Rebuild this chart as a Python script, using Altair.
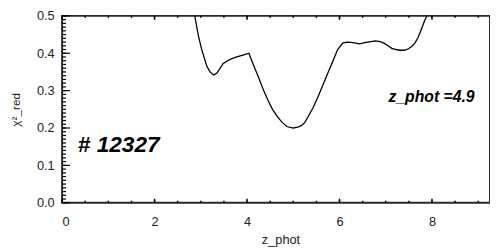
import altair as alt
import pandas as pd

# chi^2_red curve versus photometric redshift
z_phot = [2.70, 2.80, 2.87, 2.95, 3.02, 3.13, 3.20, 3.28, 3.35, 3.48, 3.58, 3.66,
          3.78, 3.91, 4.04, 4.15, 4.25, 4.36, 4.46, 4.55, 4.66, 4.76, 4.86, 5.00,
          5.10, 5.18, 5.25, 5.32, 5.43, 5.54, 5.65, 5.75, 5.86, 5.96, 6.07, 6.16,
          6.25, 6.35, 6.43, 6.50, 6.57, 6.68, 6.78, 6.88, 6.96, 7.05, 7.13, 7.22,
          7.31, 7.40, 7.49, 7.56, 7.63, 7.70, 7.77, 7.84, 7.89, 8.00, 8.10]
chi2_red = [0.64, 0.56, 0.50, 0.445, 0.41, 0.365, 0.35, 0.342, 0.347, 0.372, 0.380, 0.385,
            0.390, 0.395, 0.400, 0.365, 0.335, 0.300, 0.272, 0.250, 0.230, 0.215, 0.204, 0.200,
            0.202, 0.207, 0.215, 0.230, 0.255, 0.285, 0.318, 0.348, 0.380, 0.410, 0.427, 0.430,
            0.429, 0.427, 0.425, 0.427, 0.429, 0.431, 0.433, 0.431, 0.427, 0.420, 0.413, 0.410,
            0.408, 0.408, 0.412, 0.418, 0.427, 0.442, 0.464, 0.487, 0.500, 0.56, 0.64]

# axis ticks
y_major = [0.0, 0.1, 0.2, 0.3, 0.4, 0.5]
y_minor = [round(0.01 * i, 2) for i in range(51)]
x_major = [0, 2, 4, 6, 8]
x_minor = [0.5 * i for i in range(19)]

# annotations
ann1_text = ["# 12327"]
ann1_x = [0.34]
ann1_y = [0.135]
ann2_text = ["z_phot  =4.9"]
ann2_x = [7.06]
ann2_y = [0.27]

W, H = 435, 190
X_MAX = 9.255
FRAME = "black"
FONT = "Liberation Sans"

xs = alt.Scale(domain=[0, X_MAX], nice=False, zero=False)
ys = alt.Scale(domain=[0, 0.5], nice=False, zero=False)

x_axis = alt.Axis(
    title="z_phot", values=x_major, format="d", ticks=False, domain=False, grid=False,
    labelFontSize=13, labelPadding=13, labelColor="#222", labelFont=FONT,
    titleFontSize=13, titleFontWeight="normal", titleFont=FONT, titleColor="#222",
    titlePadding=5, titleX=222)
y_axis = alt.Axis(
    title="χ²_red", values=y_major, format=".1f", ticks=False, domain=False, grid=False,
    labelFontSize=13, labelPadding=8, labelColor="#222", labelFont=FONT,
    titleFontSize=12, titleFontWeight="normal", titleFont=FONT, titleColor="#222",
    titlePadding=14)


def X(field):
    return alt.X(field, type="quantitative", scale=xs, axis=x_axis, title="z_phot")


def Y(field):
    return alt.Y(field, type="quantitative", scale=ys, axis=y_axis, title="χ²_red")


df = pd.DataFrame({"z": z_phot, "chi": chi2_red})

curve = alt.Chart(df).mark_line(color="black", strokeWidth=1.3, clip=True).encode(
    x=X("z"), y=Y("chi"), order="z:Q")

y_minor_ticks = alt.Chart(pd.DataFrame({"ymn": y_minor})).mark_rule(
    color=FRAME, strokeWidth=1.2).encode(y=Y("ymn"), x=alt.value(0), x2=alt.value(4))
y_major_ticks = alt.Chart(pd.DataFrame({"ymj": y_major})).mark_rule(
    color=FRAME, strokeWidth=1.2).encode(y=Y("ymj"), x=alt.value(0), x2=alt.value(8))
x_minor_bot = alt.Chart(pd.DataFrame({"xmn": x_minor})).mark_rule(
    color=FRAME, strokeWidth=1.5).encode(x=X("xmn"), y=alt.value(H), y2=alt.value(H - 2))
x_major_bot = alt.Chart(pd.DataFrame({"xmj": x_major})).mark_rule(
    color=FRAME, strokeWidth=1.5).encode(x=X("xmj"), y=alt.value(H), y2=alt.value(H - 4))
x_minor_top = alt.Chart(pd.DataFrame({"xmnt": x_minor})).mark_rule(
    color=FRAME, strokeWidth=1.5).encode(x=X("xmnt"), y=alt.value(0), y2=alt.value(2))
x_major_top = alt.Chart(pd.DataFrame({"xmjt": x_major})).mark_rule(
    color=FRAME, strokeWidth=1.5).encode(x=X("xmjt"), y=alt.value(0), y2=alt.value(4))

ann1 = alt.Chart(pd.DataFrame({"t1": ann1_text, "ax1": ann1_x, "ay1": ann1_y})).mark_text(
    align="left", baseline="alphabetic", font=FONT, fontWeight="bold", fontStyle="italic",
    fontSize=23, color="black").encode(x=X("ax1"), y=Y("ay1"), text="t1:N")
ann2 = alt.Chart(pd.DataFrame({"t2": ann2_text, "ax2": ann2_x, "ay2": ann2_y})).mark_text(
    align="left", baseline="alphabetic", font=FONT, fontWeight="bold", fontStyle="italic",
    fontSize=16, color="black").encode(x=X("ax2"), y=Y("ay2"), text="t2:N")

chart = alt.layer(
    curve, y_minor_ticks, y_major_ticks, x_minor_bot, x_major_bot,
    x_minor_top, x_major_top, ann1, ann2,
).properties(
    width=W, height=H,
    autosize=alt.AutoSizeParams(type="none"),
    padding={"left": 55, "top": 6, "right": 0, "bottom": 44},
    background="white",
).configure_view(
    stroke="#2a2a2a", strokeWidth=2,
)

chart.save("out.html", embed_options={"renderer": "svg", "actions": False})
